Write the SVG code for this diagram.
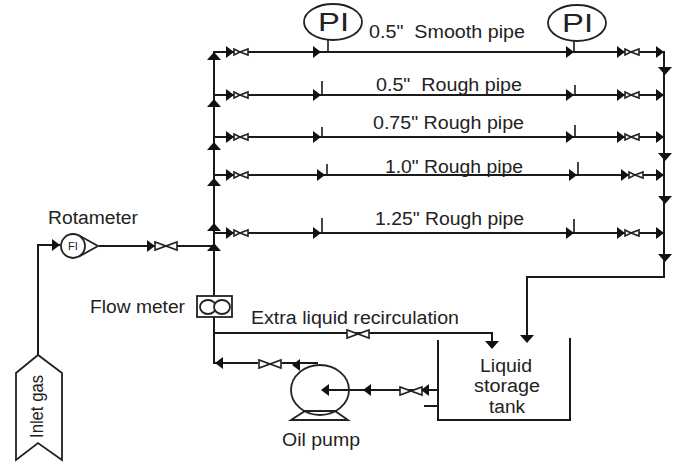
<svg xmlns="http://www.w3.org/2000/svg" width="673" height="464" viewBox="0 0 673 464">
<style>
text{font-family:"Liberation Sans",Arial,sans-serif;font-size:18px;fill:#222}
.l{fill:none;stroke:#1a1a1a;stroke-width:2}
.t{fill:none;stroke:#1a1a1a;stroke-width:1.6}
.s{fill:#fff;stroke:#222;stroke-width:1.8}
.v{fill:#fff;stroke:#222;stroke-width:1.6}
.h{fill:#111}
</style>
<defs>
<path id="ar" class="h" d="M-4-6L4 0L-4 6Z"/>
<path id="al" class="h" d="M4-6L-4 0L4 6Z"/>
<path id="ad" class="h" d="M-7-4H7L0 4Z"/>
<path id="au" class="h" d="M-7 4H7L0-4Z"/>
<g id="vsm"><path class="h" d="M0-6L8 0L0 6Z"/><path class="v" d="M8-3L14 0L8 3Z"/><path class="v" d="M22-3V3L14 0Z"/></g>
<path id="vb" class="v" d="M-11-4V4L11-4V4Z"/>
</defs>
<g id="connectors">
<path class="l" d="M38 355V245H60"/>
<path class="l" d="M99 246H214"/>
<path class="l" d="M214 296V52H664V277H527V340"/>
<path class="l" d="M214 95H664M214 137H664M214 175H664M214 233H664"/>
<path class="l" d="M214 317V363H258M282 363H318"/>
<path class="l" d="M214 333H492V345"/>
<path class="l" d="M323 390H438"/>
<path class="t" d="M328 37V52M574 38V52M322 81V95M322 127V137M327 164V175M578 162V175M322 218V233M574 219V233M575 85V95M575 125V137"/>
<use href="#ar" x="56" y="245"/>
<use href="#vsm" x="226" y="52"/><use href="#vsm" x="226" y="95"/><use href="#vsm" x="226" y="137"/><use href="#vsm" x="226" y="175"/><use href="#vsm" x="226" y="233"/>
<use href="#vsm" x="617" y="52"/><use href="#vsm" x="617" y="95"/><use href="#vsm" x="617" y="137"/><use href="#vsm" x="621" y="175"/><use href="#vsm" x="617" y="233"/>
<use href="#ar" x="317" y="52"/><use href="#ar" x="317" y="95"/><use href="#ar" x="317" y="137"/><use href="#ar" x="321" y="175"/><use href="#ar" x="317" y="233"/>
<use href="#ar" x="570" y="52"/><use href="#ar" x="570" y="95"/><use href="#ar" x="570" y="137"/><use href="#ar" x="573" y="175"/><use href="#ar" x="570" y="233"/>
<use href="#ar" x="660" y="52"/><use href="#ar" x="660" y="95"/><use href="#ar" x="660" y="137"/><use href="#ar" x="660" y="175"/><use href="#ar" x="660" y="233"/>
<use href="#au" x="214" y="56"/><use href="#au" x="214" y="103"/><use href="#au" x="214" y="146"/><use href="#au" x="214" y="182"/><use href="#au" x="214" y="227"/><use href="#au" x="214" y="247"/>
<use href="#ad" x="665" y="71"/><use href="#ad" x="665" y="157"/><use href="#ad" x="665" y="200"/><use href="#ad" x="665" y="258"/>
<use href="#ad" x="527" y="339"/><use href="#ad" x="492" y="345"/>
<use href="#ar" x="151" y="246"/><use href="#vb" x="166" y="246"/>
<use href="#vb" x="358" y="334"/><use href="#vb" x="270" y="364"/>
<use href="#al" x="219" y="363"/><use href="#al" x="296" y="365"/>
<use href="#al" x="325" y="390"/><use href="#al" x="367" y="390"/>
<use href="#vb" x="411" y="391"/><use href="#al" x="425" y="390"/>
</g>
<g id="inlet-gas"><path class="s" d="M38 355L16 373V460L38 443L62 460V373Z"/><text transform="translate(43 438) rotate(-90)" textLength="63" lengthAdjust="spacingAndGlyphs">Inlet gas</text></g>
<g id="rotameter"><text x="48" y="224" textLength="90" lengthAdjust="spacingAndGlyphs">Rotameter</text><path class="s" d="M80 236L98 246L80 256Z"/><circle class="s" cx="73" cy="246" r="12"/><text x="73" y="250" text-anchor="middle" style="font-size:11px">FI</text></g>
<g id="pi-1"><ellipse class="s" cx="333" cy="22" rx="29" ry="18"/><text x="318" y="31" style="font-size:25px" textLength="31" lengthAdjust="spacingAndGlyphs">PI</text></g>
<g id="pi-2"><ellipse class="s" cx="577" cy="23" rx="29" ry="18"/><text x="562" y="32" style="font-size:25px" textLength="31" lengthAdjust="spacingAndGlyphs">PI</text></g>
<g id="flow-meter"><text x="90" y="313" textLength="95" lengthAdjust="spacingAndGlyphs">Flow meter</text><rect class="s" x="197" y="296" width="35" height="21"/><ellipse class="s" cx="208" cy="307" rx="8" ry="7"/><ellipse class="s" cx="222" cy="307" rx="8" ry="7"/></g>
<g id="pump"><path class="s" d="M291 420L305 411H335L348 420Z"/><ellipse class="s" style="fill:none" cx="320" cy="390" rx="29" ry="25"/><text x="282" y="446" textLength="78" lengthAdjust="spacingAndGlyphs">Oil pump</text></g>
<g id="tank"><path class="l" d="M438 340V420H570V338M424 406H438"/><text x="480" y="372" textLength="52" lengthAdjust="spacingAndGlyphs">Liquid</text><text x="474" y="392" textLength="66" lengthAdjust="spacingAndGlyphs">storage</text><text x="489" y="413" textLength="36" lengthAdjust="spacingAndGlyphs">tank</text></g>
<g id="labels">
<text x="369" y="38" xml:space="preserve" textLength="156" lengthAdjust="spacingAndGlyphs">0.5"  Smooth pipe</text>
<text x="376" y="91" xml:space="preserve" textLength="146" lengthAdjust="spacingAndGlyphs">0.5"  Rough pipe</text>
<text x="373" y="129" textLength="151" lengthAdjust="spacingAndGlyphs">0.75" Rough pipe</text>
<text x="385" y="173" textLength="138" lengthAdjust="spacingAndGlyphs">1.0" Rough pipe</text>
<text x="375" y="225" textLength="149" lengthAdjust="spacingAndGlyphs">1.25" Rough pipe</text>
<text x="251" y="324" textLength="208" lengthAdjust="spacingAndGlyphs">Extra liquid recirculation</text>
</g>
</svg>
